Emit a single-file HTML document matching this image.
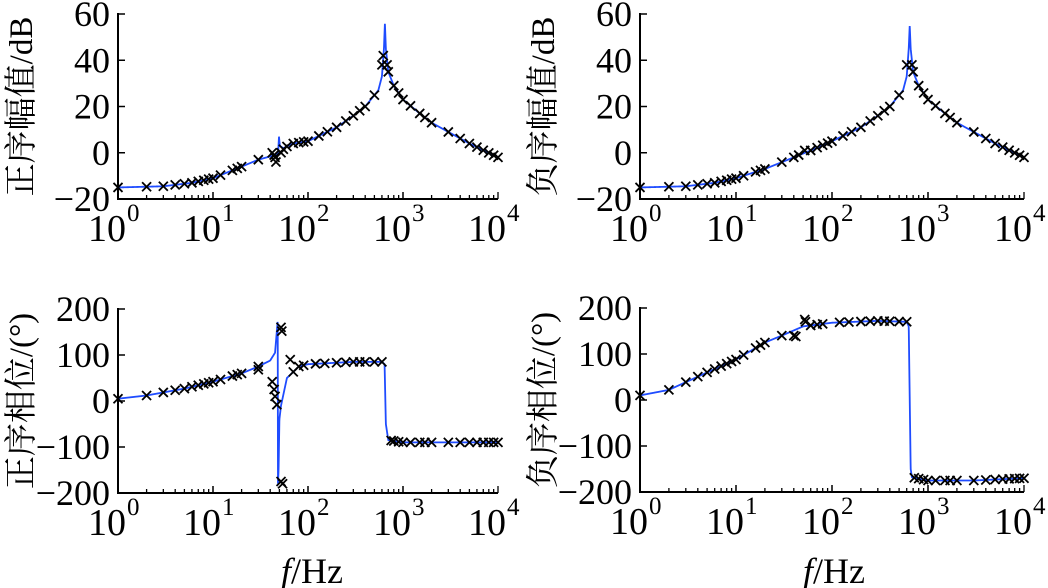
<!DOCTYPE html>
<html><head><meta charset="utf-8"><style>
html,body{margin:0;padding:0;background:#fff;width:1048px;height:588px;overflow:hidden}
svg text{font-family:"Liberation Serif","Noto Serif CJK SC",serif;fill:#000}
</style></head><body>
<svg id="s" width="1048" height="588" xmlns="http://www.w3.org/2000/svg"></svg>
<script>
const S=document.getElementById('s');let h='';
function interp(t,lf){for(let i=0;i<t.length-1;i++){if(lf<=t[i+1][0]){const a=t[i],b=t[i+1];const r=(lf-a[0])/(b[0]-a[0]||1);return a[1]+r*(b[1]-a[1]);}}return t[t.length-1][1];}
const L=Math.log10;
function T(arr){return arr.map(p=>[L(p[0]),p[1]]);}
const magP=T([[1,-15],[3,-14.5],[6,-13],[10,-11],[20,-6],[30,-3],[45,-1],[48.5,0],[49.5,7],[50.5,3],[55,2],[70,4],[100,5],[200,11],[300,16],[400,20],[550,27],[600,33],[630,45],[645,56],[660,45],[700,35],[800,29],[1000,23],[1500,17],[2000,13],[3000,9],[5000,4],[10000,-2]]);
const magN=T([[1,-15],[3,-14.5],[6,-13],[10,-11],[20,-7],[40,-2],[60,1],[100,5],[200,11],[300,16],[400,20],[550,27],[600,33],[630,45],[645,55],[660,45],[700,35],[800,29],[1000,23],[1500,17],[2000,13],[3000,9],[5000,4],[10000,-2]]);
const phP=T([[1,5],[2,12],[5,27],[10,42],[20,60],[30,75],[40,88],[45,105],[48,175],[48.3,-180],[49,-150],[50,-40],[52,-10],[60,50],[80,75],[100,80],[300,85],[600,85],[640,80],[660,-50],[700,-85],[1000,-90],[10000,-90]]);
const phN=T([[1,10],[2,22],[5,60],[10,88],[20,125],[30,140],[50,160],[100,168],[300,172],[600,170],[630,160],[660,-150],[680,-168],[1000,-175],[3000,-175],[10000,-170]]);
function panel(x0,x1,y0,y1,vmax,vmin,ticks,lbl,tbl,mk){
 const sx=lf=>x0+(x1-x0)*lf/4, sy=v=>y0+(y1-y0)*(vmax-v)/(vmax-vmin);
 h+=`<path d="M${x0} ${y0-1}V${y1}H${x1}" stroke="#000" stroke-width="2" fill="none"/>`;
 for(let d=0;d<4;d++)for(let k=1;k<=10;k++){const x=sx(d+L(k));h+=`<line x1="${x}" y1="${y1}" x2="${x}" y2="${y1-(k==1||k==10?7:4)}" stroke="#000" stroke-width="1.3"/>`;}
 ticks.forEach(v=>{const y=sy(v);h+=`<line x1="${x0}" y1="${y}" x2="${x0+7}" y2="${y}" stroke="#000" stroke-width="1.5"/>`;
  h+=`<text x="${x0-8}" y="${y+12}" font-size="36" text-anchor="end">${v<0?'−'+(-v):v}</text>`;});
 for(let d=0;d<=4;d++){const x=sx(d);h+=`<text x="${x+8}" y="${y1+42}" font-size="38" text-anchor="end">10</text><text x="${x+9}" y="${y1+22}" font-size="25">${d}</text>`;}
 const cy=(y0+y1)/2;
 h+=`<text transform="translate(${x0-86},${cy}) rotate(-90)" font-size="33" text-anchor="middle">${lbl}</text>`;
 let p='';for(let i=0;i<=3000;i++){const lf=4*i/3000;let v=interp(tbl,lf);v=Math.max(vmin-2,Math.min(vmax,v));p+=(i?'L':'M')+sx(lf).toFixed(2)+' '+sy(v).toFixed(2);}
 h+=`<path d="${p}" stroke="#1f4cff" stroke-width="1.8" fill="none"/>`;
 mk.forEach(m=>{let f=m[0],v=m.length>1?m[1]:interp(tbl,L(f));const x=sx(L(f)),y=sy(v);h+=`<path d="M${x-4.5} ${y-4.5}L${x+4.5} ${y+4.5}M${x+4.5} ${y-4.5}L${x-4.5} ${y+4.5}" stroke="#000" stroke-width="1.8"/>`;});
}
const fs=[1,2,3,4,5,6,7,8,9,10,12,16,18,20,30];
const fh=[60,70,80,90,100,130,160,200,250,300,350,400,500,700,800,900,1000,1200,1500,1700,2000,3000,4000,5000,6000,7000,8000,9000,10000];
const m1=fs.map(f=>[f]).concat([[42,0],[44,-1],[45,-2],[46,-4],[52,0],[55,1.5]],fh.map(f=>[f]),[[600,38],[620,42],[680,38]]);
const m2=fs.map(f=>[f]).concat([[40,-2],[45,-1],[52,1]],fh.map(f=>[f]),[[600,38],[680,38]]);
const m3=fs.map(f=>[f]).concat([[30,68],[42,42],[44,25],[45,10],[47,-8],[52,160],[53,152],[52,-175],[54,-180],[65,90]],[70,80,90,120,150,200,250,300,350,400,500,600,750,800,900,1000,1200,1500,1700,2000,3000,4000,5000,6000,7000,8000,9000,10000].map(f=>[f]));
const m4=fs.map(f=>[f]).concat([[40,140],[42,138],[52,175],[53,170]],[60,70,80,120,150,200,250,300,350,400,500,600,720,800,900,1000,1200,1500,1700,2000,3000,4000,5000,6000,7000,8000,9000,10000].map(f=>[f]));
panel(118,498,14,199,60,-20,[60,40,20,0,-20],'正序幅值/dB',magP,m1);
panel(640,1024,14,199,60,-20,[60,40,20,0,-20],'负序幅值/dB',magN,m2);
panel(118,498,309,493,200,-200,[200,100,0,-100,-200],'正序相位/(°)',phP,m3);
panel(640,1024,308,492,200,-200,[200,100,0,-100,-200],'负序相位/(°)',phN,m4);
h+=`<text x="312" y="583" font-size="36" text-anchor="middle"><tspan font-style="italic">f</tspan>/Hz</text>`;
h+=`<text x="834" y="583" font-size="36" text-anchor="middle"><tspan font-style="italic">f</tspan>/Hz</text>`;
S.innerHTML=h;
</script>
</body></html>
